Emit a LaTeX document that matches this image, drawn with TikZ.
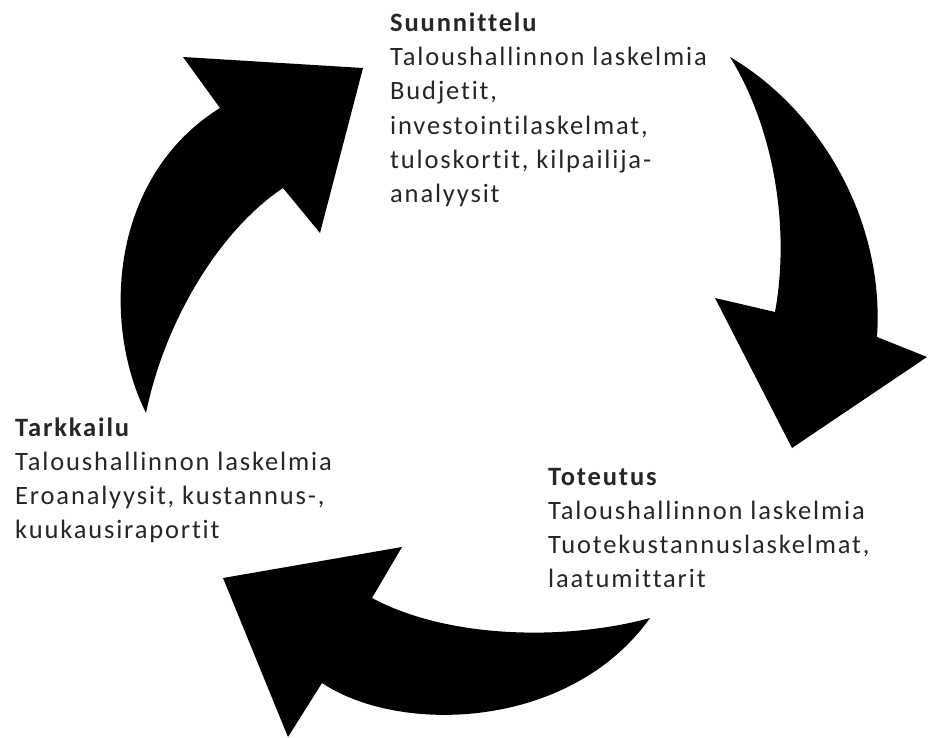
\documentclass[tikz,border=0pt]{standalone}
\usepackage{fontspec}
\setmainfont{Carlito}[LetterSpace=7,Ligatures={NoCommon}]
\begin{document}
\begin{tikzpicture}[x=1pt,y=-1pt,
  blockarrow/.style={fill=black,draw=none},
  phase/.style={anchor=base west,align=left,inner sep=0pt,font=\fontsize{26.5}{34}\selectfont,text=black!85}]
\useasboundingbox (0,0) rectangle (928,738);
% upper-left arrow
\path[blockarrow] (146,413) .. controls (100,320) and (112,175) .. (220,108)
  -- (183,57) -- (363,68) -- (320,233) -- (283,188)
  .. controls (220,230) and (165,320) .. cycle;
% right arrow
\path[blockarrow] (730,57) .. controls (820,110) and (885,220) .. (877,337)
  -- (927,357) -- (792,448) -- (715,298) -- (775,312)
  .. controls (790,230) and (775,130) .. cycle;
% bottom arrow
\path[blockarrow] (650,618) .. controls (570,640) and (450,640) .. (372,598)
  -- (402,547) -- (223,578) -- (288,737) -- (322,683)
  .. controls (400,735) and (570,730) .. cycle;
% anchors are at the baseline of each text's last line
\node[phase] (plan) at (390,202) {\textbf{Suunnittelu}\\Taloushallinnon laskelmia\\Budjetit,\\investointilaskelmat,\\tuloskortit, kilpailija-\\analyysit};
\node[phase] (impl) at (548,587) {\textbf{Toteutus}\\Taloushallinnon laskelmia\\Tuotekustannuslaskelmat,\\laatumittarit};
\node[phase] (monitor) at (15,538) {\textbf{Tarkkailu}\\Taloushallinnon laskelmia\\Eroanalyysit, kustannus-,\\kuukausiraportit};
\end{tikzpicture}
\end{document}
